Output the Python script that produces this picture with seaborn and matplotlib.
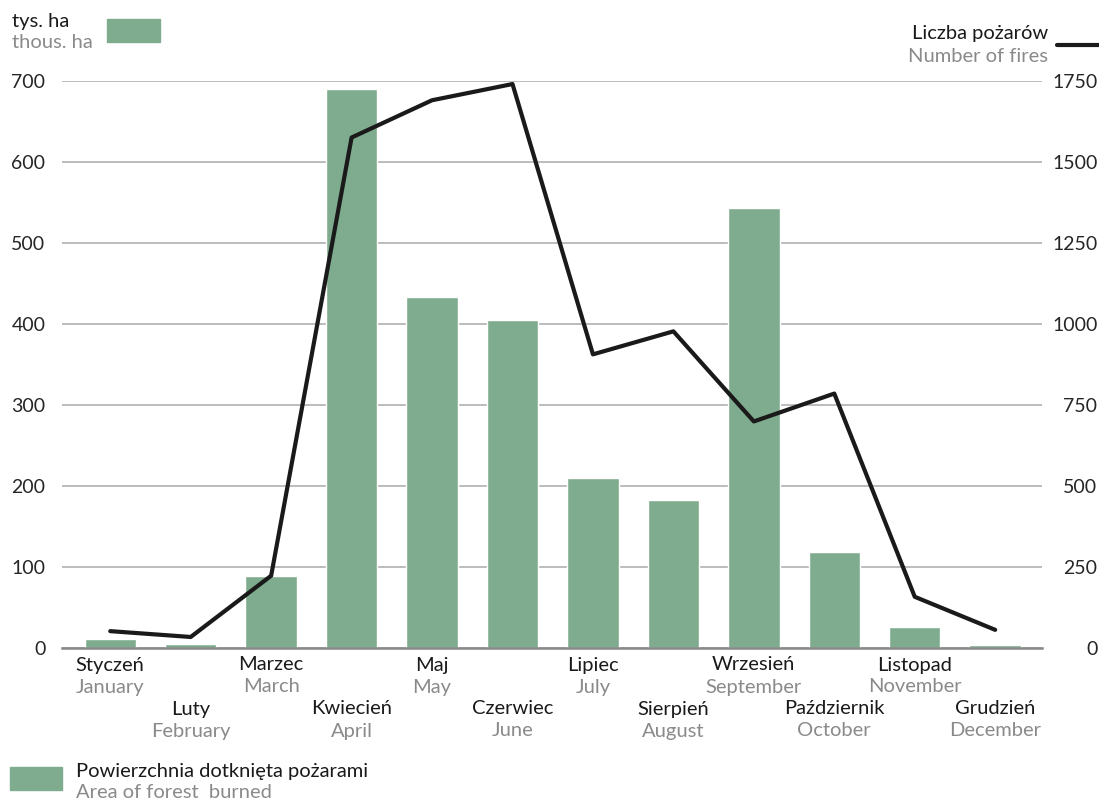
import numpy as np
import pandas as pd
import matplotlib.pyplot as plt
import matplotlib.transforms as mtransforms
from matplotlib.patches import Rectangle
from matplotlib.lines import Line2D
import seaborn as sns

# ── Data ─────────────────────────────────────────────────────
months_pl = ["Styczeń", "Luty", "Marzec", "Kwiecień", "Maj", "Czerwiec",
             "Lipiec", "Sierpień", "Wrzesień", "Październik", "Listopad", "Grudzień"]
months_en = ["January", "February", "March", "April", "May", "June",
             "July", "August", "September", "October", "November", "December"]
area_burned = [11, 5, 89, 690, 433, 405, 210, 183, 543, 119, 26, 4]   # thous. ha
fires = [52, 34, 223, 1575, 1690, 1740, 906, 977, 699, 785, 158, 56]  # number of fires

GREEN = "#7fac8f"
GREY_TXT = "#8a8a8a"
FONT = ["Lato", "DejaVu Sans"]
FS = 14.5

sns.set_style("white")
plt.rcParams["font.family"] = FONT

df = pd.DataFrame({"month": months_pl, "area": area_burned,
                   "fires": fires, "pos": np.arange(12)})

fig = plt.figure(figsize=(10.99, 8), dpi=100)
ax = fig.add_axes([0.0564, 0.19, 0.8916, 0.709])

sns.barplot(data=df, x="month", y="area", color=GREEN, saturation=1,
            width=0.64, ax=ax)
ax.set_ylim(0, 700)
ax.set_xlim(-0.6, 11.58)
ax.set_yticks(range(0, 701, 100))
ax.set_xlabel("")
ax.set_ylabel("")
ax.set_xticks([])
ax.yaxis.grid(True, color="#b0b0b0", linewidth=1.2)
ax.set_axisbelow(True)
for s in ["top", "right", "left"]:
    ax.spines[s].set_visible(False)
ax.spines["bottom"].set_color("#888888")
ax.spines["bottom"].set_linewidth(1.8)
ax.tick_params(axis="y", length=0, pad=12, labelsize=14)

ax2 = ax.twinx()
sns.lineplot(data=df, x="pos", y="fires", color="#1a1a1a", linewidth=3,
             ax=ax2)
ax2.set_ylim(0, 1750)
ax2.set_yticks(range(0, 1751, 250))
ax2.set_xlabel("")
ax2.set_ylabel("")
for s in ax2.spines.values():
    s.set_visible(False)
ax2.tick_params(axis="y", length=0, pad=40, labelsize=14)
for lab in ax2.get_yticklabels():
    lab.set_horizontalalignment("right")

# ── Month labels (staggered) ─────────────────────────────────
trans = mtransforms.blended_transform_factory(ax.transData, fig.transFigure)
for i, (pl, en) in enumerate(zip(months_pl, months_en)):
    y0 = 1 - 665 / 800 if i % 2 == 0 else 1 - 709 / 800
    ax.text(i, y0, pl, transform=trans, ha="center", va="center",
            fontsize=FS, color="#1a1a1a")
    ax.text(i, y0 - 22 / 800, en, transform=trans, ha="center",
            va="center", fontsize=FS, color=GREY_TXT)

# ── Unit labels / legends ────────────────────────────────────
fig.text(12 / 1099, 1 - 22 / 800, "tys. ha", ha="left", va="center",
         fontsize=FS, color="#1a1a1a")
fig.text(12 / 1099, 1 - 43 / 800, "thous. ha", ha="left", va="center",
         fontsize=FS, color=GREY_TXT)
fig.patches.append(Rectangle((107 / 1099, 1 - 42 / 800), 53 / 1099, 23 / 800,
                             transform=fig.transFigure, color=GREEN))

fig.text(1048 / 1099, 1 - 34 / 800, "Liczba pożarów", ha="right",
         va="center", fontsize=FS, color="#1a1a1a")
fig.text(1048 / 1099, 1 - 56 / 800, "Number of fires", ha="right",
         va="center", fontsize=FS, color=GREY_TXT)
fig.lines.append(Line2D([1057 / 1099, 1099 / 1099], [1 - 45 / 800, 1 - 45 / 800],
                        transform=fig.transFigure, color="#1a1a1a", linewidth=3))

fig.patches.append(Rectangle((10 / 1099, 1 - 790 / 800), 52 / 1099, 23 / 800,
                             transform=fig.transFigure, color=GREEN))
fig.text(76 / 1099, 1 - 771 / 800, "Powierzchnia dotknięta pożarami",
         ha="left", va="center", fontsize=FS, color="#1a1a1a")
fig.text(76 / 1099, 1 - 792 / 800, "Area of forest  burned",
         ha="left", va="center", fontsize=FS, color=GREY_TXT)

fig.savefig("out.png", dpi=100)
